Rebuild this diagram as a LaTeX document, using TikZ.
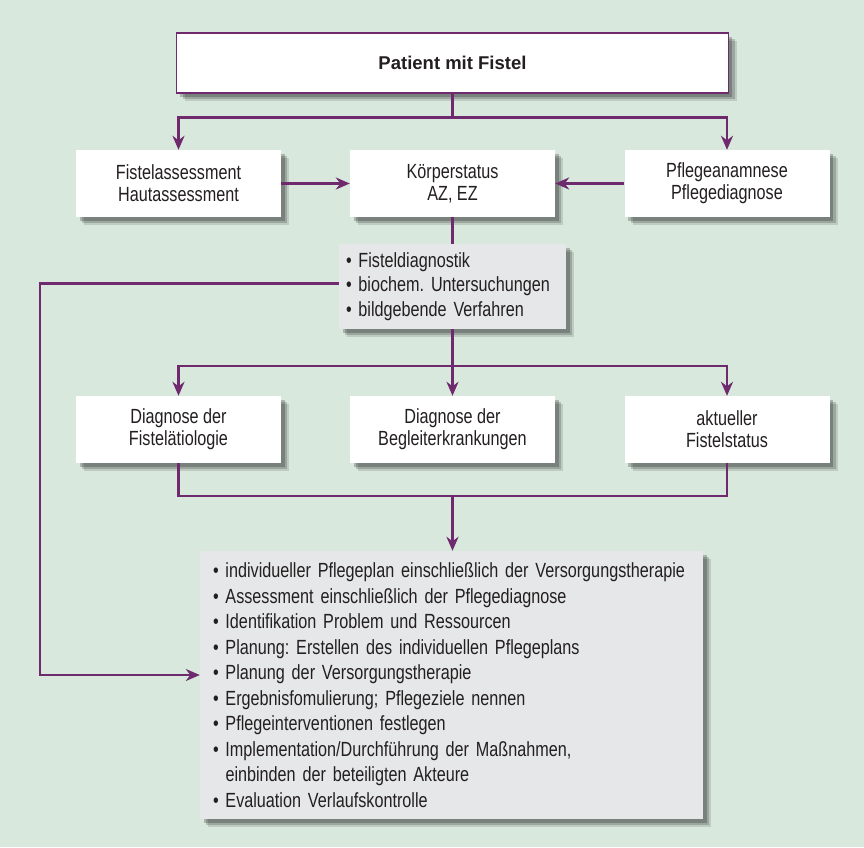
\documentclass[tikz,border=0pt]{standalone}
\usepackage{fontspec}
\setmainfont{Liberation Sans}
\newfontfamily\schmal[FakeStretch=0.79]{Liberation Sans}
\usepackage{tikz}
\usetikzlibrary{positioning, arrows.meta, calc, shadows}
\frenchspacing

\definecolor{hintergrund}{HTML}{D8E8DC}
\definecolor{lila}{HTML}{6E2A6C}
\definecolor{listgrau}{HTML}{E6E7E8}
\definecolor{schrift}{HTML}{231F20}

\begin{document}
\begin{tikzpicture}[
            x=1pt, y=-1pt,
            schatten/.style={
                    drop shadow={shadow xshift=8pt, shadow yshift=-8pt, opacity=0.12, fill=black},
                    drop shadow={shadow xshift=6pt, shadow yshift=-6pt, opacity=0.18, fill=black},
                    drop shadow={shadow xshift=3.5pt, shadow yshift=-3.5pt, opacity=0.22, fill=black}
                },
            kasten/.style={
                    schatten,
                    fill=white,
                    minimum width=205pt,
                    minimum height=67pt,
                    inner sep=0pt,
                    align=center,
                    text=schrift,
                    font=\schmal\fontsize{20.5}{22}\selectfont
                },
            kopf/.style={
                    kasten,
                    draw=lila,
                    line width=1.2pt,
                    minimum width=552pt,
                    minimum height=60pt,
                    font=\bfseries\fontsize{18.5}{22}\selectfont
                },
            liste/.style={
                    schatten,
                    fill=listgrau,
                    inner xsep=#1,
                    inner ysep=0pt,
                    align=left,
                    text=schrift
                },
            linie/.style={
                    draw=lila,
                    line width=2.4pt
                },
            pfeil/.style={
                    linie,
                    -{Stealth[length=14pt, width=12pt, inset=4.5pt]}
                }
        ]

        \useasboundingbox[fill=hintergrund] (0,0) rectangle (864,847);

        % obere Reihe
        \node[kopf] (patient) at (452.5,63) {Patient mit Fistel};
        \node[kasten] (fistel) at (178.5,183.5) {Fistelassessment\\Hautassessment};
        \node[kasten] (koerper) at (452.5,183.5) {Körperstatus\\AZ, EZ};
        \node[kasten] (pflege) at (727,183.5) {Pflegeanamnese\\Pflegediagnose};

        \node[liste=7pt, minimum width=227pt, minimum height=85pt, text width=213pt,
            font=\schmal\fontsize{20.5}{24.5}\selectfont] (diagnostik) at (452.5,286.5)
            {\textbullet\ Fisteldiagnostik\\
             \textbullet\ biochem. Untersuchungen\\
             \textbullet\ bildgebende Verfahren};

        % mittlere Reihe
        \node[kasten] (aetiologie) at (178.5,429.5) {Diagnose der\\Fistelätiologie};
        \node[kasten] (begleit) at (452.5,429.5) {Diagnose der\\Begleiterkrankungen};
        \node[kasten] (status) at (727,429.5) {aktueller\\Fistelstatus};

        \node[liste=13pt, minimum width=503pt, minimum height=268pt, text width=477pt,
            font=\schmal\fontsize{20.5}{25.5}\selectfont] (plan) at (451.5,685)
            {\textbullet\ individueller Pflegeplan einschließlich der Versorgungstherapie\\
             \textbullet\ Assessment einschließlich der Pflegediagnose\\
             \textbullet\ Identifikation Problem und Ressourcen\\
             \textbullet\ Planung: Erstellen des individuellen Pflegeplans\\
             \textbullet\ Planung der Versorgungstherapie\\
             \textbullet\ Ergebnisfomulierung; Pflegeziele nennen\\
             \textbullet\ Pflegeinterventionen festlegen\\
             \textbullet\ Implementation/Durchführung der Maßnahmen,\\
             \phantom{\textbullet\ }einbinden der beteiligten Akteure\\
             \textbullet\ Evaluation Verlaufskontrolle};

        \coordinate (sammel) at ($(begleit.south)+(0,33)$);
        \coordinate (links) at (40,675);

        % Verbindungen
        \draw[pfeil] (patient.south) -- ++(0,24) -| (fistel.north);
        \draw[pfeil] (patient.south) -- ++(0,24) -| (pflege.north);
        \draw[pfeil] (fistel) -- (koerper);
        \draw[pfeil] (pflege) -- (koerper);
        \draw[linie] (koerper) -- (diagnostik);
        \draw[pfeil] (diagnostik.south) -- ++(0,37) -| (aetiologie.north);
        \draw[pfeil] (diagnostik.south) -- ++(0,37) -| (status.north);
        \draw[pfeil] (diagnostik) -- (begleit);
        \draw[linie] (aetiologie.south) |- (sammel) -| (status.south);
        \draw[pfeil] (sammel) -- (sammel |- plan.north);
        \draw[pfeil] ($(diagnostik.west)+(0,-3)$) -| (links) -- (links -| plan.west);

    \end{tikzpicture}
\end{document}
